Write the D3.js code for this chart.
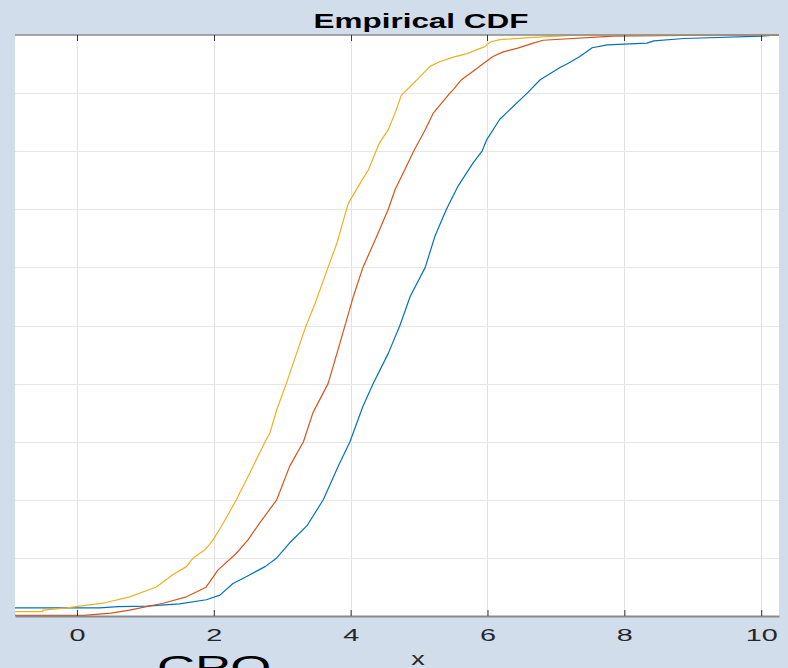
<!DOCTYPE html>
<html>
<head>
<meta charset="utf-8">
<script src="https://cdn.jsdelivr.net/npm/d3@7"></script>
<style>
  html, body { margin: 0; padding: 0; background: #d2ddec; }
  svg { display: block; }
  text { font-family: "Liberation Sans", Arial, Helvetica, sans-serif; }
</style>
</head>
<body>
<div id="chart"></div>
<script>
// ---- data ----
const xTicks = [0, 2, 4, 6, 8, 10];
const yGrid = [0.1, 0.2, 0.3, 0.4, 0.5, 0.6, 0.7, 0.8, 0.9];

const yellowX = [-0.91, -0.5, -0.5, -0.15, 0.04, 0.38, 0.77, 1.16, 1.40, 1.60, 1.70, 1.87, 1.99, 2.14, 2.33, 2.53, 2.75, 2.82, 2.92, 3.06, 3.21, 3.35, 3.48, 3.67, 3.80, 3.94, 3.97, 4.14, 4.26, 4.37, 4.42, 4.55, 4.65, 4.74, 4.92, 5.03, 5.16, 5.30, 5.50, 5.70, 5.96, 6.04, 6.18, 6.67, 7.35, 10.26];
const yellowF = [0.0074, 0.0074, 0.010, 0.014, 0.017, 0.022, 0.033, 0.050, 0.071, 0.085, 0.100, 0.114, 0.131, 0.160, 0.200, 0.247, 0.300, 0.315, 0.355, 0.400, 0.452, 0.500, 0.538, 0.600, 0.642, 0.700, 0.711, 0.745, 0.768, 0.800, 0.814, 0.837, 0.866, 0.896, 0.917, 0.930, 0.946, 0.954, 0.962, 0.968, 0.980, 0.988, 0.992, 0.996, 1.0, 1.0];

const redX = [-0.91, 0.10, 0.19, 0.50, 0.77, 1.26, 1.60, 1.79, 1.89, 2.06, 2.33, 2.50, 2.67, 2.92, 3.11, 3.31, 3.45, 3.67, 3.80, 3.93, 4.04, 4.18, 4.38, 4.55, 4.65, 4.77, 4.92, 5.09, 5.21, 5.45, 5.50, 5.62, 5.75, 5.94, 6.08, 6.23, 6.43, 6.67, 6.81, 7.84, 9.55, 10.26];
const redF = [0.001, 0.001, 0.002, 0.005, 0.010, 0.022, 0.033, 0.044, 0.050, 0.079, 0.108, 0.131, 0.160, 0.200, 0.258, 0.300, 0.350, 0.400, 0.452, 0.505, 0.550, 0.600, 0.653, 0.700, 0.734, 0.763, 0.800, 0.837, 0.866, 0.900, 0.906, 0.923, 0.934, 0.951, 0.963, 0.971, 0.977, 0.986, 0.991, 0.998, 1.0, 1.0];

const blueX = [-0.91, 0.33, 0.60, 1.02, 1.50, 1.89, 2.09, 2.28, 2.48, 2.75, 2.92, 3.11, 3.36, 3.60, 3.82, 3.99, 4.18, 4.33, 4.55, 4.72, 4.87, 5.09, 5.23, 5.40, 5.57, 5.79, 5.92, 5.99, 6.18, 6.58, 6.77, 7.06, 7.16, 7.35, 7.53, 7.75, 8.33, 8.43, 8.87, 10.01, 10.23, 10.26];
const blueF = [0.014, 0.014, 0.016, 0.017, 0.021, 0.028, 0.036, 0.056, 0.068, 0.085, 0.100, 0.126, 0.155, 0.200, 0.258, 0.300, 0.361, 0.400, 0.452, 0.500, 0.550, 0.600, 0.653, 0.700, 0.740, 0.780, 0.800, 0.820, 0.855, 0.900, 0.923, 0.944, 0.950, 0.963, 0.978, 0.983, 0.986, 0.990, 0.994, 0.998, 1.0, 1.0];

const seriesNames = ["blue", "red", "yellow"];
const seriesColors = ["#0072BD", "#D95319", "#EDB120"];

// ---- drawing ----
const W = 788, H = 668;
const pLeft = 15, pRight = 779, pTop = 35, pBottom = 616;

const svg = d3.select("#chart").append("svg")
  .attr("width", W).attr("height", H);

svg.append("rect").attr("width", W).attr("height", H).attr("fill", "#d2ddec");

const x = d3.scaleLinear().domain([-0.905, 10.26]).range([pLeft, pRight]);
const y = d3.scaleLinear().domain([0, 1]).range([pBottom, pTop]);

svg.append("rect")
  .attr("x", pLeft).attr("y", pTop)
  .attr("width", pRight - pLeft).attr("height", pBottom - pTop)
  .attr("fill", "#ffffff");

// grid
svg.append("g").selectAll("line").data(xTicks).join("line")
  .attr("x1", d => Math.round(x(d)) + 0.5).attr("x2", d => Math.round(x(d)) + 0.5)
  .attr("y1", pTop).attr("y2", pBottom)
  .attr("stroke", "#e2e2e2").attr("stroke-width", 1);

svg.append("g").selectAll("line").data(yGrid).join("line")
  .attr("x1", pLeft).attr("x2", pRight)
  .attr("y1", d => Math.round(y(d)) + 0.5).attr("y2", d => Math.round(y(d)) + 0.5)
  .attr("stroke", "#e6e6e6").attr("stroke-width", 1);

// clip
svg.append("clipPath").attr("id", "clip")
  .append("rect").attr("x", pLeft).attr("y", pTop - 1)
  .attr("width", pRight - pLeft).attr("height", pBottom - pTop + 1);

const line = d3.line().x(d => x(d[0])).y(d => y(d[1]));

const series = [
  blueX.map((v, i) => [v, blueF[i]]),
  redX.map((v, i) => [v, redF[i]]),
  yellowX.map((v, i) => [v, yellowF[i]])
];

const lg = svg.append("g").attr("clip-path", "url(#clip)");
series.forEach((s, i) => {
  lg.append("path")
    .datum(s)
    .attr("d", line)
    .attr("fill", "none")
    .attr("stroke", seriesColors[i])
    .attr("stroke-width", 1.2)
    .attr("stroke-linejoin", "round");
});

// top border with ticks
svg.append("line")
  .attr("x1", pLeft).attr("x2", pRight).attr("y1", pTop).attr("y2", pTop)
  .attr("stroke", "#8a8a8a").attr("stroke-width", 1.5);
svg.append("g").selectAll("line").data(xTicks).join("line")
  .attr("x1", d => Math.round(x(d)) + 0.5).attr("x2", d => Math.round(x(d)) + 0.5)
  .attr("y1", pTop).attr("y2", pTop + 6)
  .attr("stroke", "#333").attr("stroke-width", 1);

// bottom axis
const xAxis = d3.axisBottom(x).tickValues(xTicks).tickSizeInner(-6).tickSizeOuter(0).tickFormat(d3.format("d"));
const ax = svg.append("g").attr("transform", `translate(0,${pBottom})`).call(xAxis);
ax.select(".domain").attr("stroke", "#8a8a8a").attr("stroke-width", 2);
ax.selectAll(".tick line").attr("stroke", "#333").attr("stroke-width", 1);
ax.selectAll(".tick text")
  .attr("y", 25).attr("dy", 0)
  .attr("fill", "#262626")
  .attr("font-size", 16)
  .attr("transform", "scale(1.8,1)")
  .attr("font-family", "'Liberation Sans', Arial, sans-serif");

// title
svg.append("text")
  .attr("transform", "translate(421,28.3) scale(1.63,1)")
  .attr("text-anchor", "middle")
  .attr("font-size", 19.3).attr("font-weight", "bold")
  .attr("fill", "#000")
  .text("Empirical CDF");

// x label
svg.append("text")
  .attr("transform", "translate(418,665) scale(1.5,1)")
  .attr("text-anchor", "middle")
  .attr("font-size", 18)
  .attr("fill", "#262626")
  .text("x");

// large partial text at the bottom
svg.append("text")
  .attr("transform", "translate(157,678) scale(1.65,1)")
  .attr("text-anchor", "start")
  .attr("font-size", 32)
  .attr("fill", "#000")
  .text("CPO");
</script>
</body>
</html>
